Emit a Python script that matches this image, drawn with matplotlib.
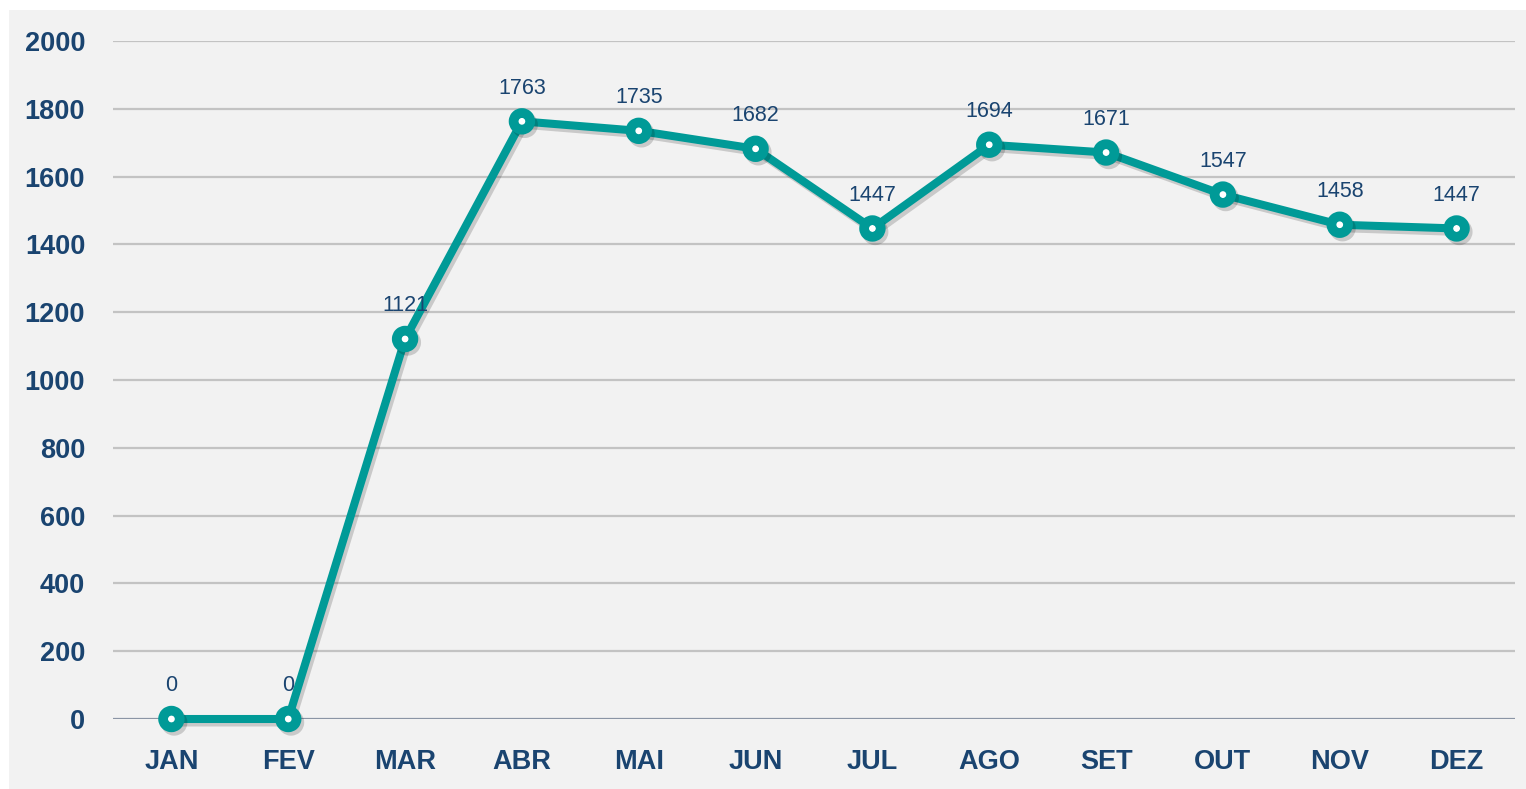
import matplotlib
matplotlib.use('Agg')
import matplotlib.pyplot as plt
import matplotlib.patheffects as pe
from matplotlib.patches import Rectangle

months = ['JAN', 'FEV', 'MAR', 'ABR', 'MAI', 'JUN', 'JUL', 'AGO', 'SET', 'OUT', 'NOV', 'DEZ']
values = [0, 0, 1121, 1763, 1735, 1682, 1447, 1694, 1671, 1547, 1458, 1447]
y_ticks = [0, 200, 400, 600, 800, 1000, 1200, 1400, 1600, 1800, 2000]

plt.rcParams['font.family'] = ['Liberation Sans', 'DejaVu Sans']

teal = '#009a97'
navy = '#1a4470'

fig = plt.figure(figsize=(15.26, 7.89), dpi=100)
fig.patch.set_facecolor('white')
# grey panel behind the chart
fig.patches.append(Rectangle((9 / 1526, 0), 1 - 9 / 1526, 779 / 789,
                             transform=fig.transFigure, facecolor='#f2f2f2',
                             edgecolor='none', zorder=-10))

ax = fig.add_axes([113 / 1526, 70 / 789, 1402 / 1526, 678 / 789])
ax.set_facecolor('none')

x = list(range(len(months)))
shadow = [pe.SimpleLineShadow(offset=(2, -2.5), shadow_color='black', alpha=0.17), pe.Normal()]
ax.plot(x, values, color=teal, lw=5.8, marker='o', ms=12, mew=7,
        mfc='white', mec=teal, zorder=5, clip_on=False, path_effects=shadow)

for xi, v in zip(x, values):
    ax.annotate(str(v), (xi, v), xytext=(0, 24), textcoords='offset points',
                ha='center', va='center', fontsize=15.5, color=navy, zorder=6)

ax.set_xlim(-0.5, 11.5)
ax.set_ylim(0, 2000)
ax.set_yticks(y_ticks)
ax.set_xticks(x)
ax.set_xticklabels(months)
for yv in y_ticks[1:]:
    ax.axhline(yv, color='#c3c3c3', lw=1.6, zorder=1)
ax.axhline(0, color='#8b95a5', lw=1.6, zorder=2)

for s in ax.spines.values():
    s.set_visible(False)
ax.tick_params(length=0)
ax.tick_params(axis='y', pad=20, labelsize=19.5, labelcolor=navy)
ax.tick_params(axis='x', pad=21.5, labelsize=19.5, labelcolor=navy)
for lbl in ax.get_xticklabels() + ax.get_yticklabels():
    lbl.set_fontweight('bold')

fig.savefig('out.png', dpi=100)
